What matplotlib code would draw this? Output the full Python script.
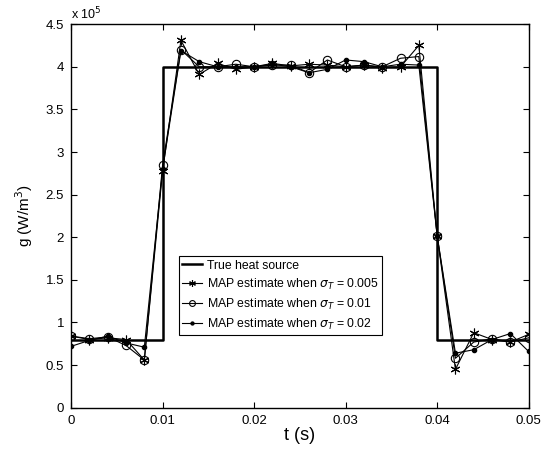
import numpy as np
import matplotlib
matplotlib.use('Agg')
from matplotlib import pyplot as plt
from matplotlib.ticker import FuncFormatter

plt.rcParams['font.family'] = ['Liberation Sans', 'DejaVu Sans']

# time grid of the estimates (s)
t = np.arange(26) * 0.002

# true heat source (W/m^3)
t_true = [0.0, 0.01, 0.01, 0.04, 0.04, 0.05]
g_true = [0.8e5, 0.8e5, 4.0e5, 4.0e5, 0.8e5, 0.8e5]

# MAP estimates, in units of 1e5 W/m^3
g_005 = [0.84, 0.80, 0.82, 0.80, 0.56, 2.78, 4.31, 3.91, 4.04, 3.97, 4.00, 4.04, 4.01,
         4.03, 4.02, 4.00, 4.02, 3.99, 4.00, 4.25, 2.02, 0.45, 0.88, 0.80, 0.77, 0.86]
g_01 = [0.84, 0.81, 0.83, 0.73, 0.56, 2.85, 4.20, 4.00, 4.00, 4.03, 4.00, 4.02, 4.02,
        3.93, 4.08, 4.00, 4.02, 4.00, 4.10, 4.12, 2.02, 0.58, 0.77, 0.81, 0.77, 0.82]
g_02 = [0.72, 0.79, 0.84, 0.76, 0.71, 2.80, 4.19, 4.06, 4.00, 4.00, 4.00, 4.03, 4.00,
        3.93, 3.97, 4.08, 4.06, 4.00, 4.03, 4.02, 2.02, 0.64, 0.68, 0.80, 0.87, 0.66]

scale = 1e5

fig = plt.figure(figsize=(5.6, 4.61), dpi=100)
ax = fig.add_axes([0.127, 0.1156, 0.817, 0.832])

h_true, = ax.plot(t_true, g_true, 'k-', lw=1.8)
h1, = ax.plot(t, np.array(g_005) * scale, 'k-', lw=0.8, marker=(6, 2, 0),
              markersize=7, markeredgewidth=0.8)
h2, = ax.plot(t, np.array(g_01) * scale, 'k-', lw=0.8, marker='o', markersize=6,
              markerfacecolor='none', markeredgewidth=0.8)
h3, = ax.plot(t, np.array(g_02) * scale, 'k-', lw=0.8, marker='.', markersize=6)

ax.set_xlim(0, 0.05)
ax.set_ylim(0, 4.5e5)
ax.set_xticks([0, 0.01, 0.02, 0.03, 0.04, 0.05])
ax.set_xticklabels(['0', '0.01', '0.02', '0.03', '0.04', '0.05'])
ax.set_yticks(np.arange(0, 4.51e5, 0.5e5))
ax.yaxis.set_major_formatter(FuncFormatter(lambda v, p: '{:g}'.format(v / scale)))
ax.tick_params(direction='in', top=True, right=True, labelsize=9.5, length=4, width=0.8,
               pad=5)
for s in ax.spines.values():
    s.set_linewidth(1.0)

ax.text(0.0, 1.005, r'x 10$^5$', transform=ax.transAxes, fontsize=9,
        ha='left', va='bottom')
ax.set_xlabel('t (s)', fontsize=13, labelpad=0)
ax.set_ylabel('g (W/m$^3$)', fontsize=11, labelpad=8)

leg = ax.legend([h_true, h1, h2, h3],
                ['True heat source',
                 r'MAP estimate when $\sigma_T$ = 0.005',
                 r'MAP estimate when $\sigma_T$ = 0.01',
                 r'MAP estimate when $\sigma_T$ = 0.02'],
                loc='lower left', bbox_to_anchor=(0.222, 0.173), fontsize=8.8,
                frameon=True, fancybox=False, edgecolor='k', framealpha=1,
                handlelength=1.6, borderpad=0.3, labelspacing=0.4,
                handletextpad=0.4, markerscale=0.7)
leg.get_frame().set_linewidth(0.8)

fig.savefig('out.png', dpi=100)
